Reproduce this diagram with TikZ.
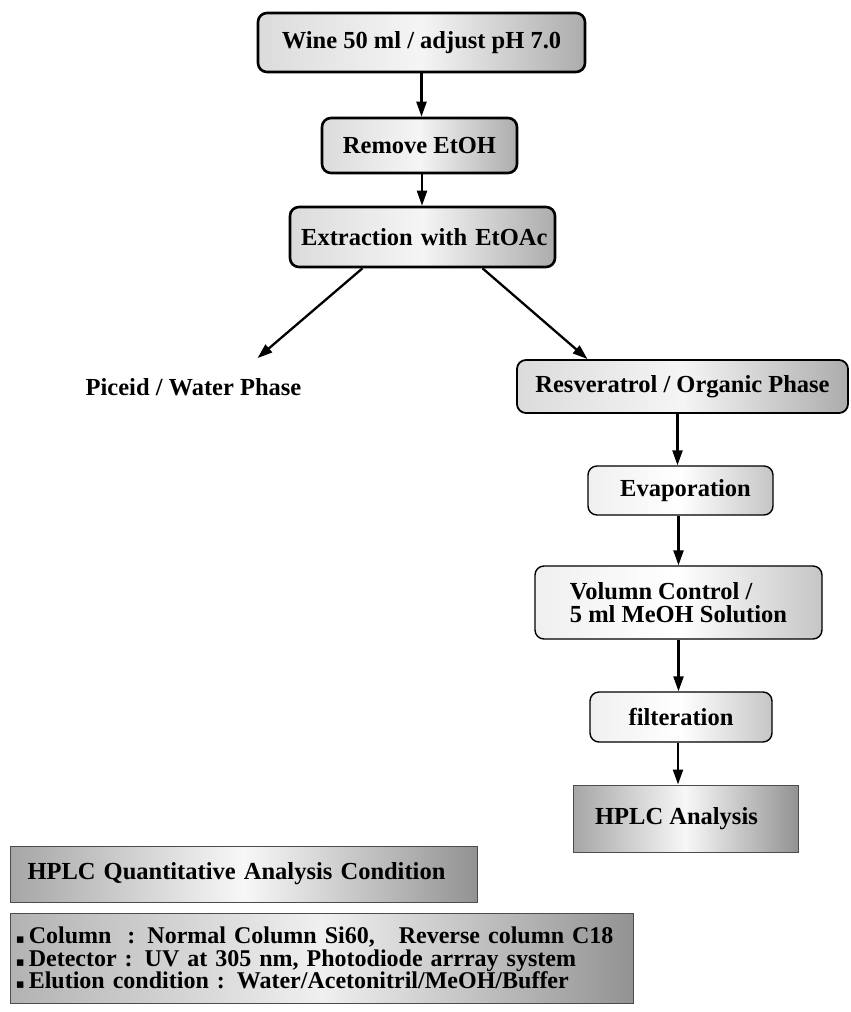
\documentclass[tikz,border=0pt]{standalone}
\usepackage{fontspec}
\setmainfont{Liberation Serif}
\newfontfamily\dejavu{DejaVu Sans}
\usetikzlibrary{arrows.meta,calc}
\begin{document}
\begin{tikzpicture}[x=1pt,y=-1pt,
  every node/.style={font=\fontsize{24.5}{22.5}\selectfont\bfseries},
  rbox/.style={draw=black, rounded corners=9pt, line width=2.6pt, inner sep=0pt,
    left color=gray!28, right color=gray!65, middle color=gray!8},
  lbox/.style={draw=black, rounded corners=9pt, line width=1.4pt, inner sep=0pt,
    left color=gray!12, right color=gray!45, middle color=white},
  sbox/.style={draw=gray!60!black, line width=1pt, inner sep=0pt,
    left color=gray!70, right color=gray!85, middle color=gray!6},
  arr/.style={line width=2.3pt, -{Triangle[length=15pt,width=10pt]}},
]
\useasboundingbox (0,0) rectangle (851,1012);

% main column
\node[rbox, minimum width=327pt, minimum height=59pt] (wine) at (421.5,42.5) {Wine 50 ml / adjust pH 7.0};
\node[rbox, minimum width=195pt, minimum height=55pt] (remove) at (419.5,145.5) {Remove EtOH};
\node[rbox, minimum height=60pt, text width=250pt, align=right, inner xsep=7.5pt] (extract) at (422.5,237) {Extraction with EtOAc};

\node[inner sep=2pt] (piceid) at (193.5,387) {Piceid / Water Phase};

\node[rbox, line width=1.8pt, minimum width=331pt, minimum height=53pt] (resv) at (682.5,386.5) {Resveratrol / Organic Phase};
\node[lbox, minimum width=185pt, minimum height=49pt] (evap) at (680.5,490.5) {\hspace*{10pt}Evaporation};
\node[lbox, minimum width=287pt, minimum height=73pt, align=left] (volumn) at (678.5,602.5) {Volumn Control /\\5 ml MeOH Solution};
\node[lbox, minimum width=182pt, minimum height=50pt] (filter) at (681,717) {filteration};
\node[sbox, minimum width=225pt, minimum height=67pt] (hplc) at (685.5,818.5) {\raisebox{-8pt}{HPLC Analysis}\hspace*{18pt}};

% connector anchor points
\coordinate (a1) at ($(remove.south)+(2.5,0)$);
\coordinate (b1) at ($(extract.south)+(-60,0)$);
\coordinate (b2) at ($(piceid.north)+(64,-18)$);
\coordinate (c1) at ($(extract.south)+(60,0)$);
\coordinate (c2) at ($(resv.north)+(-95,0)$);
\coordinate (d1) at ($(resv.south)+(-5,0)$);
\coordinate (e1) at ($(evap.south)+(-2,0)$);
\coordinate (f1) at (volumn.south);
\coordinate (g1) at ($(filter.south)+(-3,0)$);

% connectors
\draw[arr] (wine.south) -- (wine.south |- remove.north);
\draw[arr] (a1) -- (a1 |- extract.north);
\draw[arr] (b1) -- (b2);
\draw[arr] (c1) -- (c2);
\draw[arr] (d1) -- (d1 |- evap.north);
\draw[arr] (e1) -- (e1 |- volumn.north);
\draw[arr] (f1) -- (f1 |- filter.north);
\draw[arr] (g1) -- (g1 |- hplc.north);

% bottom condition boxes
\node[sbox, minimum width=467pt, minimum height=56pt, text width=432pt, align=left, inner xsep=17.5pt] (cond) at (243.5,874) {\raisebox{-6pt}{HPLC Quantitative Analysis Condition}};
\node[sbox, left color=gray!60, right color=gray!85, middle color=gray!12, minimum width=623pt, minimum height=90pt, text width=611pt, align=left, inner xsep=6pt, font=\fontsize{24}{22.5}\selectfont\bfseries] (param) at (321.5,958)
 {\raisebox{-10pt}{\parbox{611pt}{%
  {\dejavu\fontsize{13}{13}\selectfont ▪}\,Column\ \ : Normal Column Si60,\ \ \ Reverse column C18\\
  {\dejavu\fontsize{13}{13}\selectfont ▪}\,Detector : UV at 305 nm, Photodiode arrray system\\
  {\dejavu\fontsize{13}{13}\selectfont ▪}\,Elution condition : Water/Acetonitril/MeOH/Buffer}}};
\end{tikzpicture}
\end{document}
